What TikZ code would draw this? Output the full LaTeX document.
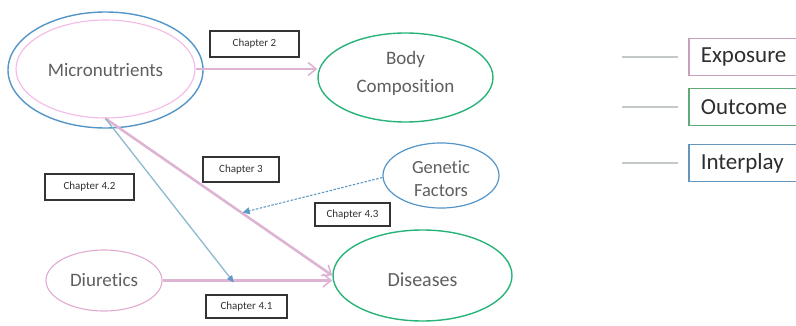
\documentclass[tikz,border=0pt]{standalone}
\usepackage{fontspec}
\setmainfont{Carlito}[Ligatures=NoCommon]
\usetikzlibrary{shapes.geometric,arrows.meta}
\definecolor{ellblue}{RGB}{84,150,200}
\definecolor{ellgreen}{RGB}{40,180,120}
\definecolor{ellpink}{RGB}{245,185,230}
\definecolor{diupink}{RGB}{225,170,210}
\definecolor{arrpink}{RGB}{222,180,212}
\definecolor{linblue}{RGB}{140,185,205}
\definecolor{dashblue}{RGB}{95,155,200}
\definecolor{txtgrey}{RGB}{95,95,95}
\definecolor{legline}{RGB}{195,200,200}
\definecolor{legpink}{RGB}{200,160,190}
\definecolor{leggreen}{RGB}{95,170,120}
\definecolor{legblue}{RGB}{100,150,190}
\newcommand{\shiftbox}[2]{\raisebox{#1}[\height][\depth]{#2}}
\newcommand{\twolines}[3]{\shiftbox{#1}{\begin{tabular}{@{}c@{}}#2\\#3\end{tabular}}}
\tikzset{
  ell/.style={ellipse, inner sep=0pt, line width=1.4pt, fill=white, text=txtgrey, font=\fontsize{19}{23}\selectfont, align=center},
  chap/.style={draw=black!80, line width=1.3pt, fill=white, inner sep=0pt, font=\fontsize{11}{13}\selectfont, text=black!80},
  pinkarrow/.style={draw=arrpink, line width=2.6pt, -{Straight Barb[length=8pt,width=13pt,line width=1.6pt]}},
  bluearrow/.style={draw=linblue, line width=1.3pt, -{Triangle[length=7pt,width=6pt,fill=dashblue,color=dashblue]}},
  dasharrow/.style={draw=dashblue, line width=1.1pt, dash pattern=on 2.5pt off 1.5pt, -{Triangle[length=7pt,width=7pt,fill=dashblue,color=dashblue]}},
  legbox/.style={anchor=west, line width=1.6pt, fill=white, minimum height=37pt, text width=112pt, inner xsep=12pt, align=left, font=\fontsize{23}{27}\selectfont, text=black!82},
  leglinestyle/.style={draw=legline, line width=1.8pt}
}
\begin{document}
\begin{tikzpicture}[x=1pt,y=-1pt]
\useasboundingbox (0,0) rectangle (796,326);
\clip (0,0) rectangle (796,326);
% ellipses
\node[ell, draw=ellblue, minimum width=195pt, minimum height=116pt] (mic) at (105.5,70) {};
\node[ell, draw=ellpink, line width=1.1pt, minimum width=179pt, minimum height=98pt] (micin) at (105.5,69) {\shiftbox{-1pt}{Micronutrients}};
\node[ell, draw=ellgreen, minimum width=175pt, minimum height=89pt, font=\fontsize{19}{28}\selectfont] (body) at (405.5,77.5) {\twolines{5pt}{Body}{Composition}};
\node[ell, draw=ellblue, line width=1.2pt, minimum width=116pt, minimum height=63pt, font=\fontsize{18.5}{23}\selectfont] (gen) at (441,175.5) {\twolines{-5pt}{Genetic}{Factors}};
\node[ell, draw=ellgreen, minimum width=179pt, minimum height=91pt, font=\fontsize{20}{24}\selectfont] (dis) at (422.5,275.5) {\shiftbox{-4pt}{Diseases}};
\node[ell, draw=diupink, line width=1.1pt, minimum width=116pt, minimum height=61pt] (diu) at (104,280.5) {Diuretics};
% chapter labels
\node[chap, minimum width=89pt, minimum height=26pt] (ch2) at (254.5,44) {Chapter 2};
\node[chap, minimum width=76pt, minimum height=25pt] (ch3) at (241,169.5) {Chapter 3};
\node[chap, minimum width=75pt, minimum height=23pt] (ch43) at (352.5,214.5) {Chapter 4.3};
\node[chap, minimum width=89pt, minimum height=26pt] (ch42) at (89.5,187) {Chapter 4.2};
\node[chap, minimum width=81pt, minimum height=23pt] (ch41) at (246.5,306.5) {Chapter 4.1};
% connectors
\draw[pinkarrow] (micin.east) -- (micin.east -| body.west);
\draw[pinkarrow] (micin.south) -- (dis.west);
\draw[pinkarrow] (diu.east) -- (diu.east -| dis.west);
\path (diu.east) -- (diu.east -| dis.west) coordinate[pos=0.42] (q);
\path (micin.south) -- (dis.west) coordinate[pos=0.605] (p);
\draw[bluearrow] (micin.south) -- ([yshift=-2pt]q);
\draw[dasharrow] (gen.west) ++(0,2) -- ([yshift=1pt]p);
% legend
\node[legbox, draw=legpink] (lexp) at (688,57) {Exposure};
\node[legbox, draw=leggreen] (lout) at (688,107) {Outcome};
\node[legbox, draw=legblue] (lint) at (688,163) {Interplay};
\draw[leglinestyle] ([xshift=-66pt]lexp.west) -- ([xshift=-10pt]lexp.west);
\draw[leglinestyle] ([xshift=-66pt]lout.west) -- ([xshift=-10pt]lout.west);
\draw[leglinestyle] ([xshift=-66pt]lint.west) -- ([xshift=-10pt]lint.west);
\end{tikzpicture}
\end{document}
